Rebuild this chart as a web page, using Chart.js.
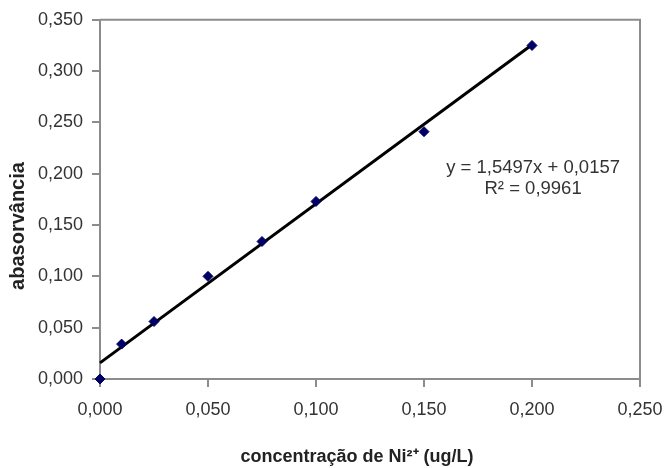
<!DOCTYPE html>
<html>
<head>
<meta charset="utf-8">
<script src="https://cdn.jsdelivr.net/npm/chart.js@4/dist/chart.umd.min.js"></script>
<style>
  html, body { margin: 0; padding: 0; background: #ffffff; }
  #wrap { width: 666px; height: 468px; }
</style>
</head>
<body>
<div id="wrap"><canvas id="c" width="666" height="468"></canvas></div>
<script>
// ---- data ----
const concentracao = [0.000, 0.010, 0.025, 0.050, 0.075, 0.100, 0.150, 0.200];
const absorvancia  = [0.000, 0.034, 0.056, 0.100, 0.134, 0.173, 0.241, 0.325];
const xTickLabels = ["0,000", "0,050", "0,100", "0,150", "0,200", "0,250"];
const yTickLabels = ["0,000", "0,050", "0,100", "0,150", "0,200", "0,250", "0,300", "0,350"];
const trendSlope = 1.5497;
const trendIntercept = 0.0157;
const trendRange = [0.000, 0.200];
const equationLines = ["y = 1,5497x + 0,0157", "R\u00B2 = 0,9961"];
const xTitle = "concentração de Ni\u00B2\u207A (ug/L)";
const yTitle = "abasorvância";

const FONT = "'Liberation Sans', Arial, sans-serif";
const trendData = trendRange.map(x => ({ x: x, y: trendSlope * x + trendIntercept }));
const pointData = concentracao.map((x, i) => ({ x: x, y: absorvancia[i] }));

const decorPlugin = {
  id: 'decor',
  beforeDatasetsDraw(chart) {
    const { ctx, chartArea } = chart;
    ctx.save();
    ctx.strokeStyle = '#8c8c8c';
    ctx.lineWidth = 2;
    ctx.beginPath();
    ctx.moveTo(chartArea.left, chartArea.top);
    ctx.lineTo(chartArea.right, chartArea.top);
    ctx.lineTo(chartArea.right, chartArea.bottom);
    ctx.stroke();
    ctx.restore();
  },
  afterDraw(chart) {
    const { ctx } = chart;
    const xs = chart.scales.x, ys = chart.scales.y;
    ctx.save();
    // equation
    ctx.fillStyle = '#333333';
    ctx.font = '18.5px ' + FONT;
    ctx.textAlign = 'center';
    ctx.textBaseline = 'middle';
    const ex = xs.getPixelForValue(0.2005);
    ctx.fillText(equationLines[0], ex, ys.getPixelForValue(0.2055));
    ctx.fillText(equationLines[1], ex, ys.getPixelForValue(0.1850));
    // x title
    ctx.fillStyle = '#222222';
    ctx.font = 'bold 18px ' + FONT;
    ctx.fillText(xTitle, 357, 457);
    // y title
    ctx.translate(18, 226);
    ctx.rotate(-Math.PI / 2);
    ctx.font = 'bold 20px ' + FONT;
    ctx.fillText(yTitle, 0, 0);
    ctx.restore();
  }
};

new Chart(document.getElementById('c'), {
  type: 'scatter',
  data: {
    datasets: [
      {
        type: 'line',
        data: trendData,
        borderColor: '#000000',
        borderWidth: 3,
        pointRadius: 0,
        fill: false,
        clip: false,
        order: 2
      },
      {
        data: pointData,
        pointStyle: 'rectRot',
        pointRadius: 5,
        backgroundColor: '#000066',
        borderColor: '#000066',
        borderWidth: 1,
        clip: false,
        order: 1
      }
    ]
  },
  plugins: [decorPlugin],
  options: {
    responsive: false,
    animation: false,
    layout: { padding: { top: 17, right: 0, left: 0, bottom: 0 } },
    plugins: { legend: { display: false }, tooltip: { enabled: false } },
    scales: {
      x: {
        type: 'linear',
        min: 0, max: 0.25,
        afterFit(s) { s.height = 89; s.paddingRight = 26; },
        grid: { drawOnChartArea: false, drawTicks: true, tickLength: 8, color: '#8c8c8c', lineWidth: 2 },
        border: { display: true, color: '#8c8c8c', width: 2 },
        ticks: {
          stepSize: 0.05,
          autoSkip: false,
          maxRotation: 0,
          padding: 12,
          color: '#333333',
          font: { family: FONT, size: 18 },
          callback: (v, i) => xTickLabels[i]
        }
      },
      y: {
        type: 'linear',
        min: 0, max: 0.35,
        afterFit(s) { s.width = 100; },
        grid: { drawOnChartArea: false, drawTicks: true, tickLength: 8, color: '#8c8c8c', lineWidth: 2 },
        border: { display: true, color: '#8c8c8c', width: 2 },
        ticks: {
          stepSize: 0.05,
          autoSkip: false,
          padding: 9,
          color: '#333333',
          font: { family: FONT, size: 18 },
          callback: (v, i) => yTickLabels[i]
        }
      }
    }
  }
});
</script>
</body>
</html>
